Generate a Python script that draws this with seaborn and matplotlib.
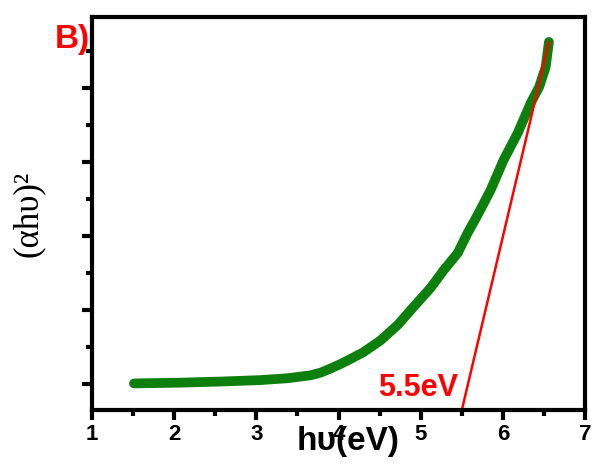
import matplotlib
matplotlib.use("Agg")
import matplotlib.pyplot as plt
import seaborn as sns
import pandas as pd
from matplotlib.ticker import MultipleLocator, NullFormatter

# Data
photon_energy = [1.51, 2.07, 2.56, 3.05, 3.38, 3.66, 3.78, 3.90, 4.02, 4.11, 4.30, 4.51,
                 4.72, 4.91, 5.12, 5.28, 5.45, 5.57, 5.70, 5.85, 6.01, 6.18, 6.34,
                 6.44, 6.52, 6.56]
absorption_sq = [0.01, 0.02, 0.035, 0.055, 0.08, 0.12, 0.155, 0.21, 0.27, 0.32, 0.43, 0.59,
                 0.80, 1.04, 1.30, 1.54, 1.77, 2.04, 2.30, 2.62, 3.03, 3.39, 3.80,
                 4.01, 4.28, 4.62]
fit_x = [5.5, 6.56]
fit_y = [-0.35, 4.62]
band_gap_label = "5.5eV"
x_ticks = [1, 2, 3, 4, 5, 6, 7]

sns.set_style("ticks")
plt.rcParams['font.family'] = ['Liberation Sans', 'DejaVu Sans']

fig = plt.figure(figsize=(5.94, 4.66), dpi=100)
ax = fig.add_axes([0.155, 0.120, 0.830, 0.844])

df = pd.DataFrame({"x": photon_energy, "y": absorption_sq})
sns.lineplot(data=df, x="x", y="y", ax=ax, color="#0c7f0c", linewidth=7,
             solid_capstyle="round", solid_joinstyle="round", sort=False)
fit = pd.DataFrame({"x": fit_x, "y": fit_y})
sns.lineplot(data=fit, x="x", y="y", ax=ax, color="#ff0000", linewidth=1.8, sort=False)

ax.set_xlim(1, 7)
ax.set_ylim(-0.35, 4.96)
ax.set_xticks(x_ticks)
ax.xaxis.set_minor_locator(MultipleLocator(0.5))
ax.yaxis.set_major_locator(MultipleLocator(1))
ax.yaxis.set_minor_locator(MultipleLocator(0.5))
ax.yaxis.set_major_formatter(NullFormatter())

for s in ax.spines.values():
    s.set_linewidth(3)
    s.set_color("black")
ax.tick_params(which="major", direction="out", length=7, width=3, labelsize=16, pad=3,
               colors="black")
ax.tick_params(which="minor", direction="out", length=4, width=3, colors="black")
for lab in ax.get_xticklabels():
    lab.set_fontweight("bold")

ax.set_xlabel("hυ(eV)", fontsize=24, fontweight="bold", color="black")
ax.set_ylabel("(αhυ)²", fontsize=25, family=["Liberation Serif", "DejaVu Serif"],
              labelpad=24, color="black")
ax.xaxis.set_label_coords(0.52, -0.04)

ax.text(5.46, -0.05, band_gap_label, color="#ff0000", fontsize=22, fontweight="bold",
        ha="right", va="center")
fig.text(0.092, 0.915, "B)", color="#ff0000", fontsize=24, fontweight="bold",
         ha="left", va="center")

fig.savefig("out.png", dpi=100)
